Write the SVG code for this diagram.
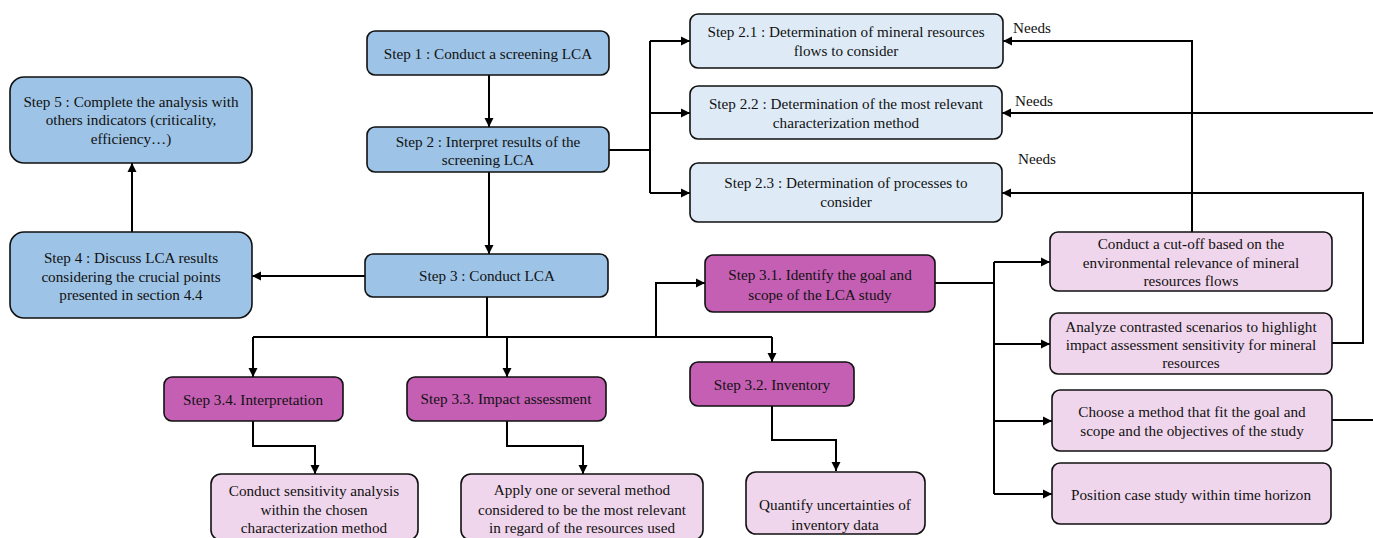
<svg xmlns="http://www.w3.org/2000/svg" width="1373" height="538" viewBox="0 0 1373 538">
<style>
.b{stroke:#111;stroke-width:1.6}
.s{fill:#9DC3E6}
.l{fill:#DEEBF7}
.m{fill:#C55FB4}
.p{fill:#F0D6EC}
text{font-family:"Liberation Serif","Times New Roman",serif;font-size:15.2px;fill:#111;text-anchor:middle}
.c{fill:none;stroke:#000;stroke-width:2}
.n{text-anchor:start}
</style>
<defs>
<marker id="a" markerUnits="userSpaceOnUse" markerWidth="10" markerHeight="10" refX="9" refY="5" orient="auto">
<path d="M0,0.5 L9,5 L0,9.5 Z" fill="#000"/>
</marker>
</defs>
<rect width="1373" height="538" fill="#fff"/>
<g id="connectors">
<path class="c" d="M489,75 V127" marker-end="url(#a)"/>
<path class="c" d="M489,172 V254" marker-end="url(#a)"/>
<path class="c" d="M132,232 V163" marker-end="url(#a)"/>
<path class="c" d="M365,276 H252" marker-end="url(#a)"/>
<path class="c" d="M609,150 H650"/>
<path class="c" d="M650,41 V193"/>
<path class="c" d="M650,41 H690" marker-end="url(#a)"/>
<path class="c" d="M650,113 H690" marker-end="url(#a)"/>
<path class="c" d="M650,193 H690" marker-end="url(#a)"/>
<path class="c" d="M1192,232 V41 H1003" marker-end="url(#a)"/>
<path class="c" d="M1373,113 H1002" marker-end="url(#a)"/>
<path class="c" d="M1332,343 H1363 V193 H1002" marker-end="url(#a)"/>
<path class="c" d="M1332,420 H1373"/>
<path class="c" d="M487,297 V337"/>
<path class="c" d="M253,337 H772"/>
<path class="c" d="M253,337 V377" marker-end="url(#a)"/>
<path class="c" d="M507,337 V377" marker-end="url(#a)"/>
<path class="c" d="M772,337 V362" marker-end="url(#a)"/>
<path class="c" d="M656,337 V283 H705" marker-end="url(#a)"/>
<path class="c" d="M935,283 H994"/>
<path class="c" d="M994,262 V494"/>
<path class="c" d="M994,262 H1050" marker-end="url(#a)"/>
<path class="c" d="M994,344 H1050" marker-end="url(#a)"/>
<path class="c" d="M994,421 H1052" marker-end="url(#a)"/>
<path class="c" d="M994,494 H1052" marker-end="url(#a)"/>
<path class="c" d="M253,421 V446 H315 V474" marker-end="url(#a)"/>
<path class="c" d="M507,421 V446 H583 V474" marker-end="url(#a)"/>
<path class="c" d="M772,406 V440 H836 V471" marker-end="url(#a)"/>
<text class="n" x="1013" y="33">Needs</text>
<text class="n" x="1015" y="106">Needs</text>
<text class="n" x="1018" y="164">Needs</text>
</g>
<g id="step5"><rect class="b s" x="10" y="77" width="242" height="86" rx="14"/>
<text x="131" y="107">Step 5 : Complete the analysis with</text><text x="131" y="125">others indicators (criticality,</text><text x="131" y="144">efficiency…)</text></g>
<g id="step4"><rect class="b s" x="10" y="232" width="242" height="86" rx="14"/>
<text x="131" y="263">Step 4 : Discuss LCA results</text><text x="131" y="282">considering the crucial points</text><text x="131" y="300">presented in section 4.4</text></g>
<g id="step1"><rect class="b s" x="367" y="31" width="242" height="44" rx="8"/>
<text x="488" y="59">Step 1 : Conduct a screening LCA</text></g>
<g id="step2"><rect class="b s" x="367" y="127" width="242" height="45" rx="8"/>
<text x="488" y="147">Step 2 : Interpret results of the</text><text x="488" y="165">screening LCA</text></g>
<g id="step3"><rect class="b s" x="365" y="254" width="243" height="43" rx="8"/>
<text x="487" y="281">Step 3 : Conduct LCA</text></g>
<g id="step21"><rect class="b l" x="690" y="14" width="313" height="54" rx="8"/>
<text x="846" y="37">Step 2.1 : Determination of mineral resources</text><text x="846" y="56">flows to consider</text></g>
<g id="step22"><rect class="b l" x="690" y="86" width="312" height="53" rx="8"/>
<text x="846" y="109">Step 2.2 : Determination of the most relevant</text><text x="846" y="128">characterization method</text></g>
<g id="step23"><rect class="b l" x="690" y="163" width="312" height="59" rx="8"/>
<text x="846" y="188">Step 2.3 : Determination of processes to</text><text x="846" y="207">consider</text></g>
<g id="step31"><rect class="b m" x="705" y="255" width="230" height="57" rx="8"/>
<text x="820" y="280">Step 3.1. Identify the goal and</text><text x="820" y="300">scope of the LCA study</text></g>
<g id="step32"><rect class="b m" x="690" y="362" width="164" height="44" rx="8"/>
<text x="772" y="390">Step 3.2.  Inventory</text></g>
<g id="step33"><rect class="b m" x="407" y="377" width="199" height="44" rx="8"/>
<text x="506" y="404">Step 3.3. Impact assessment</text></g>
<g id="step34"><rect class="b m" x="164" y="377" width="179" height="44" rx="8"/>
<text x="253" y="405">Step 3.4. Interpretation</text></g>
<g id="sensitivity"><rect class="b p" x="211" y="474" width="207" height="66" rx="10"/>
<text x="314" y="496">Conduct sensitivity analysis</text><text x="314" y="515">within the chosen</text><text x="314" y="533">characterization method</text></g>
<g id="apply"><rect class="b p" x="461" y="474" width="242" height="66" rx="10"/>
<text x="582" y="495">Apply one or several method</text><text x="582" y="515">considered to be the most relevant</text><text x="582" y="533">in regard of the resources used</text></g>
<g id="quantify"><rect class="b p" x="746" y="472" width="179" height="62" rx="10"/>
<text x="835" y="510">Quantify uncertainties of</text><text x="835" y="530">inventory data</text></g>
<g id="cutoff"><rect class="b p" x="1050" y="232" width="282" height="59" rx="8"/>
<text x="1191" y="249">Conduct a cut-off based on the</text><text x="1191" y="268">environmental relevance of mineral</text><text x="1191" y="286">resources flows</text></g>
<g id="analyze"><rect class="b p" x="1050" y="313" width="282" height="61" rx="8"/>
<text x="1191" y="332">Analyze contrasted scenarios to highlight</text><text x="1191" y="350">impact assessment sensitivity for mineral</text><text x="1191" y="368">resources</text></g>
<g id="choose"><rect class="b p" x="1052" y="390" width="280" height="61" rx="8"/>
<text x="1192" y="417">Choose a method that fit the goal and</text><text x="1192" y="436">scope and the objectives of the study</text></g>
<g id="position"><rect class="b p" x="1052" y="463" width="279" height="61" rx="8"/>
<text x="1191" y="500">Position case study within time horizon</text></g>
</svg>
